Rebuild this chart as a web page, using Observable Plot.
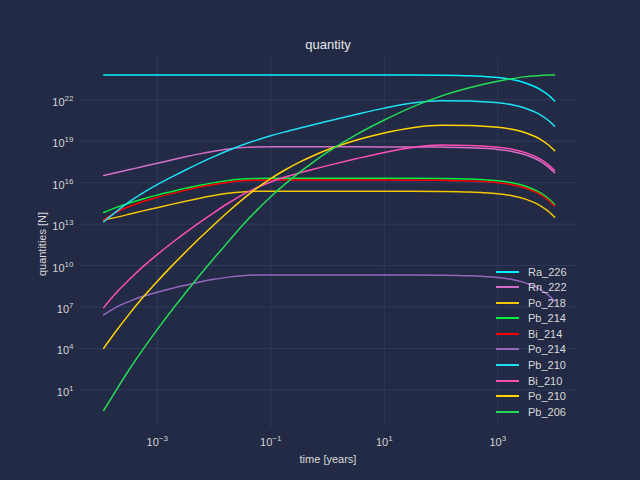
<!DOCTYPE html>
<html><head><meta charset="utf-8">
<script src="https://cdn.jsdelivr.net/npm/d3@7"></script>
<script src="https://cdn.jsdelivr.net/npm/@observablehq/plot@0.6"></script>
<style>
html,body{margin:0;padding:0;background:#232a45;}
#wrap{position:relative;width:640px;height:480px;overflow:hidden;background:#232a45;font-family:"Liberation Sans",Arial,sans-serif;color:#d9d9d9;}
#wrap svg{position:absolute;left:0;top:0;}
.t{position:absolute;white-space:nowrap;}
</style></head><body><div id="wrap"></div>
<script>
// time axis samples (years)
const years = [1.14e-4, 1.78e-4, 3.16e-4, 5.62e-4, 1e-3, 1.78e-3, 3.16e-3, 5.62e-3, 0.01, 0.0178, 0.0316, 0.0562, 0.1, 0.178, 0.316, 0.562, 1, 3.16, 10, 31.6, 100, 316, 562, 1000, 1778, 3162, 4217, 5623, 7499, 10000];

const Ra_226 = [6.3e23, 6.3e23, 6.3e23, 6.3e23, 6.3e23, 6.3e23, 6.3e23, 6.3e23, 6.3e23, 6.3e23, 6.3e23, 6.3e23, 6.3e23, 6.3e23, 6.3e23, 6.3e23, 6.3e23, 6.3e23, 6.27e23, 6.21e23, 6.03e23, 5.49e23, 4.94e23, 4.08e23, 2.92e23, 1.60e23, 1.01e23, 5.51e22, 2.45e22, 8.28e21];
const Rn_222 = [3.3e16, 5.0e16, 8.5e16, 1.48e17, 2.52e17, 4.38e17, 7.44e17, 1.22e18, 1.91e18, 2.73e18, 3.46e18, 3.85e18, 3.94e18, 3.94e18, 3.94e18, 3.94e18, 3.94e18, 3.93e18, 3.92e18, 3.89e18, 3.77e18, 3.44e18, 3.09e18, 2.55e18, 1.82e18, 1.00e18, 6.34e17, 3.45e17, 1.53e17, 5.18e16];
const Po_218 = [2.0e13, 2.95e13, 5.13e13, 9.12e13, 1.55e14, 2.69e14, 4.57e14, 7.59e14, 1.17e15, 1.70e15, 2.14e15, 2.37e15, 2.43e15, 2.43e15, 2.43e15, 2.43e15, 2.43e15, 2.43e15, 2.42e15, 2.40e15, 2.33e15, 2.12e15, 1.90e15, 1.58e15, 1.12e15, 6.18e14, 3.91e14, 2.13e14, 9.44e13, 3.19e13];
const Pb_214 = [7.0e13, 1.44e14, 3.24e14, 6.6e14, 1.26e15, 2.24e15, 3.89e15, 6.46e15, 1.01e16, 1.45e16, 1.84e16, 2.04e16, 2.10e16, 2.10e16, 2.10e16, 2.10e16, 2.10e16, 2.10e16, 2.09e16, 2.07e16, 2.01e16, 1.83e16, 1.65e16, 1.36e16, 9.72e15, 5.34e15, 3.38e15, 1.84e15, 8.16e14, 2.76e14];
const Bi_214 = [2.0e13, 6.2e13, 1.82e14, 4.34e14, 8.7e14, 1.62e15, 2.82e15, 4.79e15, 7.41e15, 1.07e16, 1.38e16, 1.51e16, 1.55e16, 1.55e16, 1.55e16, 1.55e16, 1.55e16, 1.55e16, 1.55e16, 1.53e16, 1.48e16, 1.35e16, 1.21e16, 1.00e16, 7.17e15, 3.94e15, 2.49e15, 1.36e15, 6.02e14, 2.04e14];
const Po_214 = [2.69e6, 8.3e6, 2.45e7, 5.9e7, 1.17e8, 2.19e8, 3.80e8, 6.46e8, 1.00e9, 1.45e9, 1.86e9, 2.04e9, 2.09e9, 2.09e9, 2.09e9, 2.09e9, 2.09e9, 2.09e9, 2.09e9, 2.06e9, 2.00e9, 1.82e9, 1.64e9, 1.36e9, 9.67e8, 5.31e8, 3.36e8, 1.83e8, 8.12e7, 2.75e7];
const Pb_210 = [1.48e13, 6.5e13, 3.9e14, 1.82e15, 7.2e15, 2.51e16, 8.3e16, 2.58e17, 7.67e17, 2.12e18, 5.35e18, 1.21e19, 2.47e19, 4.76e19, 8.7e19, 1.58e20, 2.82e20, 8.7e20, 2.51e21, 5.8e21, 8.5e21, 8.2e21, 7.3e21, 6.05e21, 4.35e21, 2.36e21, 1.49e21, 8.2e20, 3.6e20, 1.23e20];
const Bi_210 = [8.9e6, 7.9e7, 8.9e8, 8.3e9, 6.2e10, 4.1e11, 2.45e12, 1.35e13, 6.9e13, 3.24e14, 1.32e15, 4.27e15, 1.13e16, 2.57e16, 5.0e16, 9.4e16, 1.72e17, 5.38e17, 1.55e18, 3.55e18, 5.25e18, 5.01e18, 4.47e18, 3.72e18, 2.66e18, 1.45e18, 9.2e17, 5.0e17, 2.23e17, 7.6e16];
const Po_210 = [1.0e4, 1.3e5, 2.8e6, 5.0e7, 7.1e8, 8.7e9, 9.5e10, 9.8e11, 9.1e12, 7.9e13, 6.0e14, 3.9e15, 2.0e16, 8.3e16, 2.95e17, 8.9e17, 2.4e18, 1.18e19, 4.0e19, 9.6e19, 1.44e20, 1.38e20, 1.24e20, 1.02e20, 7.3e19, 4.0e19, 2.53e19, 1.38e19, 6.1e18, 2.09e18];
const Pb_206 = [0.32, 6.3, 263, 8.5e3, 2.3e5, 5.4e6, 1.07e8, 2.0e9, 3.4e10, 5.2e11, 7.8e12, 9.5e13, 9.6e14, 7.8e15, 5.3e16, 3.1e17, 1.6e18, 2.9e19, 3.46e20, 3.1e21, 1.86e22, 7.4e22, 1.32e23, 2.19e23, 3.39e23, 4.79e23, 5.37e23, 5.89e23, 6.17e23, 6.31e23];

const seriesNames = ["Ra_226", "Rn_222", "Po_218", "Pb_214", "Bi_214", "Po_214", "Pb_210", "Bi_210", "Po_210", "Pb_206"];
const seriesValues = [Ra_226, Rn_222, Po_218, Pb_214, Bi_214, Po_214, Pb_210, Bi_210, Po_210, Pb_206];
const seriesColors = ["#00f0ff", "#d46fc8", "#f2c500", "#00f03c", "#ff0000", "#9467bd", "#1ee0f5", "#ff4fb4", "#ffd400", "#22dc55"];

const xTicks = [1e-3, 1e-1, 1e1, 1e3];
const yTicks = [1e1, 1e4, 1e7, 1e10, 1e13, 1e16, 1e19, 1e22];

const titleText = "quantity";
const xTitle = "time [years]";
const yTitle = "quantities [N]";

const rows = [];
seriesNames.forEach((s, i) => years.forEach((t, j) => rows.push({series: s, t, n: seriesValues[i][j]})));

const bg = "#232a45", grid = "#2e3a5d";
const expo = (axis) => (d) => axis + ":10^" + Math.round(Math.log10(d));

const svg = Plot.plot({
  width: 640, height: 480,
  marginLeft: 80, marginRight: 64, marginTop: 57, marginBottom: 53,
  style: {background: bg, color: "#d4d4d4", fontFamily: "'Liberation Sans', Arial, sans-serif", fontSize: "11px"},
  x: {type: "log", domain: [10 ** -4.351, 10 ** 4.386], ticks: xTicks, tickFormat: expo("x"), tickSize: 0, tickPadding: 11, label: null},
  y: {type: "log", domain: [10 ** -1.727, 10 ** 25.065], ticks: yTicks, tickFormat: expo("y"), tickSize: 0, tickPadding: 7, label: null},
  color: {domain: seriesNames, range: seriesColors},
  marks: [
    Plot.ruleY(yTicks, {stroke: grid, strokeWidth: 1}),
    Plot.ruleX(xTicks, {stroke: grid, strokeWidth: 1}),
    Plot.line(rows, {x: "t", y: "n", z: "series", stroke: "series", strokeWidth: 1.5, curve: "monotone-x"})
  ]
});

// superscript exponents on tick labels
const ns = "http://www.w3.org/2000/svg";
svg.querySelectorAll("text").forEach(t => {
  const m = /^([xy]):10\^(-?\d+)$/.exec(t.textContent.trim());
  if (!m) return;
  while (t.firstChild) t.removeChild(t.firstChild);
  const a = document.createElementNS(ns, "tspan");
  a.textContent = "10";
  if (m[1] === "y") a.setAttribute("dy", "2.5");
  const b = document.createElementNS(ns, "tspan");
  b.textContent = m[2].replace("-", "\u2212");
  b.setAttribute("dy", "-5");
  b.setAttribute("font-size", "8");
  t.appendChild(a); t.appendChild(b);
});

const wrap = document.getElementById("wrap");
wrap.appendChild(svg);

function addText(txt, css) {
  const d = document.createElement("div");
  d.className = "t"; d.textContent = txt;
  Object.assign(d.style, css);
  wrap.appendChild(d);
  return d;
}
addText(titleText, {left: "80px", width: "496px", textAlign: "center", top: "37px", fontSize: "13px", lineHeight: "16px", color: "#e6e6e6"});
addText(xTitle, {left: "80px", width: "496px", textAlign: "center", top: "452px", fontSize: "11px", lineHeight: "14px", color: "#d9d9d9"});
addText(yTitle, {left: "41.5px", top: "244px", fontSize: "11px", lineHeight: "14px", color: "#d9d9d9", transform: "translate(-50%,-50%) rotate(-90deg)"});

// legend
seriesNames.forEach((s, i) => {
  const cy = 271.7 + 15.55 * i;
  const sw = document.createElement("div");
  Object.assign(sw.style, {position: "absolute", left: "496px", top: (cy - 1) + "px", width: "23px", height: "0", borderTop: "2px solid " + seriesColors[i]});
  wrap.appendChild(sw);
  addText(s, {left: "528px", top: (cy - 7) + "px", fontSize: "11px", lineHeight: "14px", color: "#d9d9d9"});
});
</script>
</body></html>
